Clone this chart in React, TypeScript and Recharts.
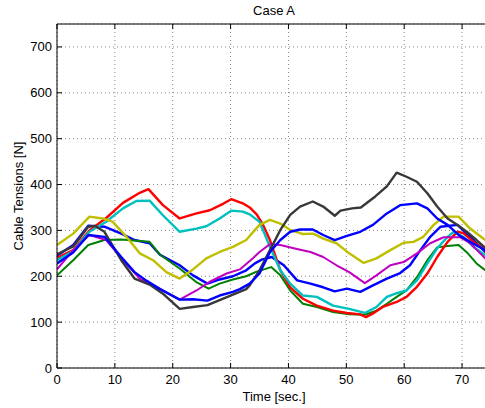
import { CartesianGrid, Line, LineChart, ReferenceLine, XAxis, YAxis } from 'recharts';

type Pt = [number, number];

// time [s], tension [N] for each cable
const cable1: Pt[] = [
  [0, 245], [2.8, 268], [5.4, 310], [8.2, 308], [11.1, 293], [13.4, 279], [16, 272],
  [17.8, 247], [21.2, 224], [23.5, 202], [26, 184], [28.1, 193], [30.4, 200], [32.7, 213],
  [34.2, 228], [35.5, 237], [37.1, 242], [39.2, 224], [41.5, 191], [43.8, 184], [46, 176],
  [48, 167], [50.1, 173], [52.4, 166], [54.6, 180], [57, 195], [59.3, 207], [61, 224],
  [62.8, 257], [64.5, 286], [66.3, 308], [69.2, 312], [70.8, 293], [72.5, 272], [74, 253],
  [75, 246],
];
const cable2: Pt[] = [
  [0, 202], [2.8, 235], [5.4, 268], [8.2, 279], [11.1, 280], [14.3, 277], [16, 275],
  [17.8, 247], [21.2, 217], [24, 188], [26.2, 173], [28.1, 184], [30.4, 193], [32.7, 200],
  [34.5, 210], [35.5, 214], [37, 220], [38.6, 202], [40.3, 169], [42.5, 140], [44.9, 133],
  [47.7, 122], [50.5, 117], [53.2, 116], [55.2, 125], [57, 140], [58.7, 155], [60.4, 169],
  [62.2, 198], [64, 235], [65.7, 263], [67.5, 266], [69.4, 268], [71, 250], [72.5, 228],
  [74, 213], [75, 207],
];
const cable3: Pt[] = [
  [0, 240], [2.8, 257], [5.6, 300], [8.5, 327], [11.4, 360], [14.3, 382], [15.8, 390],
  [18.3, 355], [21.2, 326], [24.1, 337], [26.4, 344], [28.7, 358], [30.1, 368], [32.1, 359],
  [33.3, 350], [34.5, 335], [35.5, 315], [36.8, 279], [38.6, 213], [40.3, 176], [42.5, 151],
  [44.9, 136], [47.7, 125], [50.1, 120], [52.4, 117], [53.4, 111], [54.6, 119], [56.3, 133],
  [58.7, 144], [60.4, 155], [62.2, 177], [64, 206], [65.7, 242], [67.5, 275], [69.2, 297],
  [70.2, 294], [72, 275], [74, 257], [75, 250],
];
const cable4: Pt[] = [
  [0, 235], [2.8, 255], [5.6, 297], [8.5, 319], [11.4, 348], [13.7, 364], [16, 365],
  [18.3, 333], [21.2, 297], [24.1, 304], [25.8, 309], [28.1, 326], [30.1, 343], [32.1, 341],
  [33.3, 335], [35, 319], [36.8, 264], [38.6, 213], [40.3, 184], [42.5, 158], [44.9, 155],
  [47.7, 136], [50.5, 129], [53.2, 120], [55.2, 133], [57, 155], [58.7, 163], [60.4, 169],
  [62.2, 191], [64, 228], [65.7, 261], [67.5, 286], [68.6, 297], [70.2, 286], [72, 264],
  [74, 246], [75, 240],
];
const cable5: Pt[] = [
  [0, 215], [2.8, 257], [5.6, 290], [8.5, 279], [11.4, 235], [14.3, 195], [17.2, 177],
  [21.2, 149], [24.1, 169], [26.4, 188], [29.3, 206], [31.6, 215], [33.9, 240], [35, 253],
  [36.8, 270], [38.6, 268], [40.9, 261], [43.8, 253], [46, 242], [48.3, 224], [50.5, 209],
  [53.2, 185], [55.2, 202], [57.6, 224], [59.9, 231], [62.2, 250], [64.5, 272], [66.8, 285],
  [69.7, 285], [71.4, 272], [74, 239], [75, 232],
];
const cable6: Pt[] = [
  [0, 268], [2.8, 293], [5.6, 330], [7.9, 326], [9.6, 319], [12, 286], [14.3, 250],
  [16.6, 235], [18.9, 209], [21.2, 195], [23.5, 215], [25.8, 239], [28.1, 253], [30.4, 264],
  [32.7, 279], [33.3, 288], [35, 312], [36.8, 323], [38.6, 315], [40.3, 301], [42.5, 292],
  [44.3, 293], [46, 282], [48.3, 272], [50.5, 250], [53, 229], [55.2, 239], [57.6, 257],
  [59.9, 273], [61.6, 275], [63.3, 286], [65.1, 312], [66.8, 330], [69.4, 330], [71.4, 304],
  [74, 279], [75, 272],
];
const cable7: Pt[] = [
  [0, 248], [2.8, 265], [5.4, 308], [6.5, 310], [8.2, 297], [11.1, 235], [13.4, 195],
  [16, 182], [18.3, 162], [21.2, 129], [23.5, 133], [26, 137], [28.1, 148], [30.4, 160],
  [32.7, 172], [33.3, 180], [35, 213], [36.8, 257], [38.6, 301], [40.3, 334], [42, 352],
  [44.2, 363], [46, 352], [48, 332], [49, 343], [51, 348], [52.5, 350], [55, 374], [57, 396],
  [58.7, 426], [60.4, 417], [62.2, 406], [64, 381], [65.7, 352], [67.5, 326], [69.2, 312],
  [70.8, 297], [72.5, 279], [74, 262], [75, 255],
];
const cable8: Pt[] = [
  [0, 228], [2.8, 252], [5.4, 290], [8.2, 286], [11.1, 242], [13.4, 209], [15.5, 190],
  [17.8, 172], [21.2, 149], [23.5, 150], [26, 147], [28.1, 158], [30.4, 166], [31.6, 172],
  [33.3, 184], [35, 206], [36.8, 253], [38.6, 279], [40.3, 297], [42, 302], [44.2, 302],
  [46, 290], [48, 279], [50.1, 288], [52.4, 297], [54.6, 312], [57, 337], [59.3, 355],
  [62.2, 359], [64, 348], [65.7, 326], [67.5, 312], [69.4, 290], [71.4, 275], [74, 257],
  [75, 250],
];

const xTicks = [0, 10, 20, 30, 40, 50, 60, 70];
const yTicks = [0, 100, 200, 300, 400, 500, 600, 700];

const series = [
  { name: 'cable1', pts: cable1, color: '#0000ff', width: 2.4 },
  { name: 'cable2', pts: cable2, color: '#008000', width: 2 },
  { name: 'cable3', pts: cable3, color: '#ff0000', width: 2.4 },
  { name: 'cable4', pts: cable4, color: '#00bfbf', width: 2.4 },
  { name: 'cable5', pts: cable5, color: '#bf00bf', width: 2 },
  { name: 'cable6', pts: cable6, color: '#bfbf00', width: 2.4 },
  { name: 'cable7', pts: cable7, color: '#383838', width: 2.4 },
  { name: 'cable8', pts: cable8, color: '#0000ff', width: 2.4 },
];

const FONT = '"Liberation Sans", Arial, Helvetica, sans-serif';
const TOP = 24;
const LEFT = 57;
const W = 491;
const H = 408;

const XTick = ({ x, y, payload }: any) => (
  <g>
    <line x1={x} x2={x} y1={y} y2={y - 5} stroke="#000" />
    <line x1={x} x2={x} y1={TOP} y2={TOP + 5} stroke="#000" />
    <text x={x} y={y + 16} textAnchor="middle" fontSize={13} fill="#000" fontFamily={FONT}>
      {payload.value}
    </text>
  </g>
);

const YTick = ({ x, y, payload }: any) => (
  <g>
    <line x1={x} x2={x + 5} y1={y} y2={y} stroke="#000" />
    <text x={x - 5} y={y + 4.5} textAnchor="end" fontSize={13} fill="#000" fontFamily={FONT}>
      {payload.value}
    </text>
  </g>
);

const YTitle = () => (
  <text
    x={18}
    y={196}
    transform="rotate(-90 18 196)"
    textAnchor="middle"
    dominantBaseline="central"
    fontSize={13}
    fill="#000"
    fontFamily={FONT}
  >
    Cable Tensions [N]
  </text>
);

const XTitle = () => (
  <text x={(LEFT + W) / 2} y={401} textAnchor="middle" fontSize={13} fill="#000" fontFamily={FONT}>
    Time [sec.]
  </text>
);

export default function App() {
  return (
    <div
      style={{
        position: 'absolute',
        left: 0,
        top: 0,
        width: 485,
        height: H,
        overflow: 'hidden',
        background: '#fff',
        fontFamily: FONT,
      }}
    >
      <div
        style={{
          position: 'absolute',
          top: 3,
          left: LEFT,
          width: W - LEFT,
          textAlign: 'center',
          fontSize: 13,
          lineHeight: '15px',
          color: '#000',
        }}
      >
        Case A
      </div>
      <LineChart width={W} height={H} margin={{ top: TOP, right: 0, bottom: 0, left: 0 }}>
        <CartesianGrid stroke="#888" strokeDasharray="1 3" />
        <XAxis
          type="number"
          dataKey="t"
          domain={[0, 75]}
          ticks={xTicks}
          allowDataOverflow
          height={40}
          tickSize={0}
          tickMargin={0}
          tickLine={false}
          tick={<XTick />}
          axisLine={{ stroke: '#000' }}
          label={<XTitle />}
        />
        <YAxis
          type="number"
          domain={[0, 750]}
          ticks={yTicks}
          allowDataOverflow
          width={LEFT}
          tickSize={0}
          tickMargin={0}
          tickLine={false}
          tick={<YTick />}
          axisLine={{ stroke: '#000' }}
          label={<YTitle />}
        />
        <ReferenceLine y={750} stroke="#000" />
        {series.map((s) => (
          <Line
            key={s.name}
            data={s.pts.map(([t, v]) => ({ t, v }))}
            dataKey="v"
            type="linear"
            stroke={s.color}
            strokeWidth={s.width}
            strokeLinejoin="round"
            dot={false}
            isAnimationActive={false}
          />
        ))}
      </LineChart>
    </div>
  );
}
